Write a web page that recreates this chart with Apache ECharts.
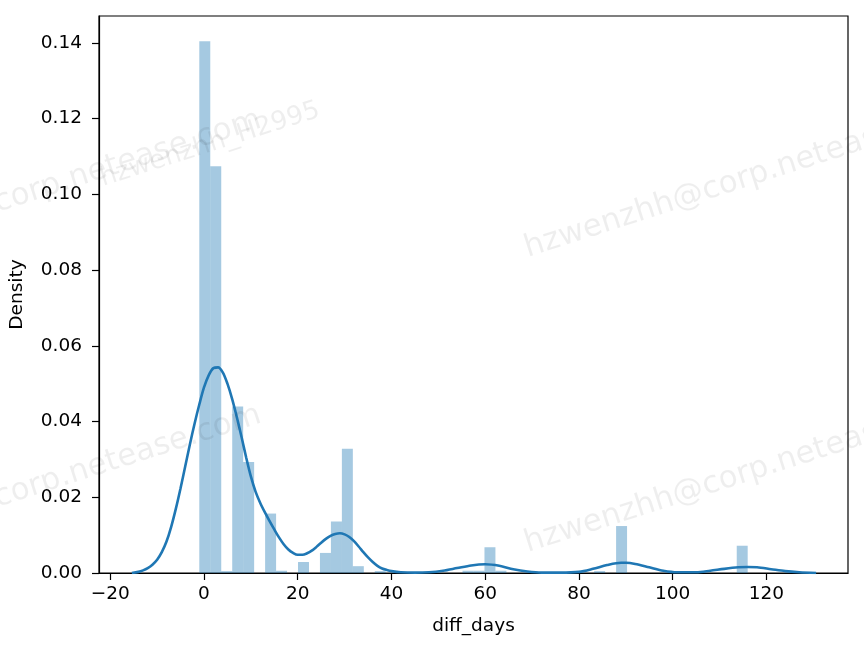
<!DOCTYPE html>
<html>
<head>
<meta charset="utf-8">
<script src="https://cdn.jsdelivr.net/npm/echarts@6/dist/echarts.min.js"></script>
<style>
html,body{margin:0;padding:0;background:#fff;}
#chart{width:864px;height:649px;}
</style>
</head>
<body>
<div id="chart"></div>
<script>
// Histogram (density) — 50 bins starting at binStart with width binWidth
const binStart = -1;
const binWidth = 2.34;
const densities = [
  0.1404, 0.1074, 0.0005, 0.0440, 0.0293, 0, 0.0157, 0.0006, 0, 0.0029,
  0, 0.0053, 0.0136, 0.0328, 0.0018, 0, 0.0005, 0, 0, 0,
  0, 0, 0, 0, 0.0006, 0.0006, 0.0068, 0.0006, 0, 0,
  0, 0, 0, 0, 0, 0, 0.0005, 0, 0.0124, 0,
  0, 0, 0, 0, 0, 0, 0, 0, 0, 0.0072
];

// KDE curve
const kdeX = [-15.4, -14, -13, -12, -11, -10, -9, -8, -7, -6, -5, -4, -3, -2, -1, 0, 1, 2, 3, 4, 5, 6, 7, 8, 9, 10, 11, 12, 13, 14, 15, 16, 17, 18, 19, 20, 21, 22, 23, 24, 25, 26, 27, 28, 29, 30, 31, 32, 33, 34, 35, 36, 37, 38, 39, 40, 42, 45, 48, 51, 54, 57, 60, 63, 66, 69, 72, 76, 80, 83, 86, 89, 90, 92, 95, 98, 101, 105, 108, 111, 114, 116, 118, 121, 124, 127, 130.6];
const kdeY = [0, 0.0003, 0.0007, 0.0013, 0.0022, 0.0035, 0.0055, 0.0083, 0.0122, 0.0170, 0.0224, 0.0282, 0.0340, 0.0395, 0.0445, 0.0490, 0.0522, 0.0541, 0.0543, 0.0530, 0.0500, 0.0460, 0.0412, 0.0360, 0.0305, 0.0255, 0.0215, 0.0185, 0.0160, 0.0137, 0.0115, 0.0094, 0.0076, 0.0062, 0.0053, 0.0048, 0.0048, 0.0052, 0.0059, 0.0069, 0.0080, 0.0090, 0.0098, 0.0103, 0.0105, 0.0102, 0.0095, 0.0084, 0.0070, 0.0055, 0.0041, 0.0029, 0.0019, 0.0012, 0.0008, 0.0005, 0.0002, 0.0001, 0.0002, 0.0006, 0.0013, 0.0020, 0.0023, 0.0019, 0.0010, 0.0004, 0.0001, 0.0001, 0.0003, 0.0011, 0.0021, 0.0027, 0.0027, 0.0024, 0.0015, 0.0006, 0.0002, 0.0002, 0.0006, 0.0011, 0.0015, 0.0016, 0.0015, 0.0010, 0.0005, 0.0002, 0];

const xTicks = [-20, 0, 20, 40, 60, 80, 100, 120];
const yTicks = [0, 0.02, 0.04, 0.06, 0.08, 0.10, 0.12, 0.14];
const xLabel = 'diff_days';
const yLabel = 'Density';
const watermarkMain = 'hzwenzhh@corp.netease.com';
const watermarkAlt = 'hzwenzhh_H2995';

const histData = [];
densities.forEach((d, k) => {
  if (d > 0) histData.push([binStart + k * binWidth, binStart + (k + 1) * binWidth, d]);
});
const kdeData = kdeX.map((x, i) => [x, kdeY[i]]);

const FONT = 'DejaVu Sans';
const chart = echarts.init(document.getElementById('chart'), null, {renderer: 'canvas'});
const wm = (text, x, y, size) => ({
  type: 'text', x: x, y: y, rotation: 0.31, z: 100, silent: true,
  style: {text: text, fill: 'rgba(0,0,0,0.065)', font: size + 'px "DejaVu Sans"', textVerticalAlign: 'bottom'}
});
chart.setOption({
  animation: false,
  backgroundColor: '#fff',
  grid: {left: 99, right: 16, top: 16, bottom: 76, show: true, borderColor: '#000', borderWidth: 1.2, backgroundColor: 'transparent'},
  xAxis: {
    type: 'value', min: -22.4, max: 137.4,
    name: xLabel, nameLocation: 'middle', nameGap: 44,
    nameTextStyle: {fontFamily: FONT, fontSize: 18.5, color: '#000'},
    axisLine: {show: true, onZero: false, lineStyle: {color: '#000', width: 1.2}},
    axisTick: {show: true, length: 7, lineStyle: {color: '#000', width: 1.2}, customValues: xTicks},
    axisLabel: {fontFamily: FONT, fontSize: 18.5, color: '#000', margin: 12, customValues: xTicks,
      formatter: v => (v < 0 ? '\u2212' + Math.abs(v) : String(v))},
    splitLine: {show: false}
  },
  yAxis: {
    type: 'value', min: 0, max: 0.1471,
    name: yLabel, nameLocation: 'middle', nameGap: 72, nameRotate: 90,
    nameTextStyle: {fontFamily: FONT, fontSize: 18.5, color: '#000'},
    axisLine: {show: true, onZero: false, lineStyle: {color: '#000', width: 1.2}},
    axisTick: {show: true, length: 7, lineStyle: {color: '#000', width: 1.2}, customValues: yTicks},
    axisLabel: {fontFamily: FONT, fontSize: 18.5, color: '#000', margin: 17, customValues: yTicks,
      formatter: v => v.toFixed(2)},
    splitLine: {show: false}
  },
  series: [
    {
      type: 'custom',
      data: histData,
      encode: {x: [0, 1], y: 2},
      renderItem: function (params, api) {
        const p0 = api.coord([api.value(0), api.value(2)]);
        const p1 = api.coord([api.value(1), 0]);
        return {
          type: 'rect',
          shape: {x: p0[0], y: p0[1], width: p1[0] - p0[0], height: p1[1] - p0[1]},
          style: {fill: 'rgba(31,119,180,0.4)'}
        };
      },
      z: 1
    },
    {
      type: 'line',
      data: kdeData,
      smooth: 0.3,
      showSymbol: false,
      symbol: 'none',
      lineStyle: {color: '#1f77b4', width: 2.6},
      z: 3
    }
  ],
  graphic: [
    wm(watermarkMain, -178, 276, 31),
    wm(watermarkAlt, 105, 192, 26),
    wm(watermarkMain, 530, 264, 31),
    wm(watermarkMain, -178, 571, 31),
    wm(watermarkMain, 530, 559, 31)
  ]
});
</script>
</body>
</html>
